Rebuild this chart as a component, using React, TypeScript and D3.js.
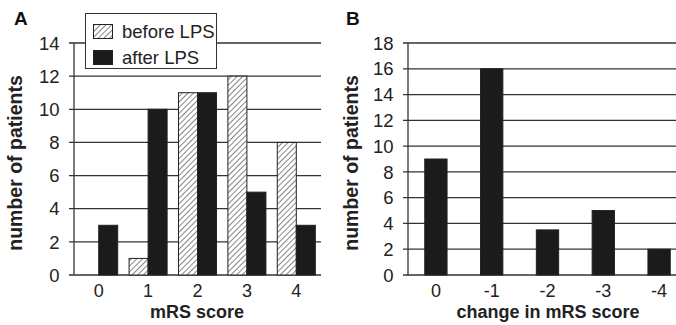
import * as d3 from "d3";
import { useEffect, useRef } from "react";

// panel A: distribution of mRS scores
const scoresA = ["0", "1", "2", "3", "4"];
const beforeLPS = [0, 1, 11, 12, 8];
const afterLPS = [3, 10, 11, 5, 3];
const seriesA = ["before LPS", "after LPS"];
const ticksA = [0, 2, 4, 6, 8, 10, 12, 14];

// panel B: change in mRS score
const changesB = ["0", "-1", "-2", "-3", "-4"];
const patientsB = [9, 16, 3.5, 5, 2];
const ticksB = [0, 2, 4, 6, 8, 10, 12, 14, 16, 18];

const W = 676;
const H = 325;
const FONT = "'Liberation Sans', Arial, sans-serif";
const INK = "#222";
const GRID = "#333";
const BAR = "#1b1b1b";
const FS = "18.5px";

function drawAxisY(g: any, y: d3.ScaleLinear<number, number>, ticks: number[], x0: number, x1: number) {
  // gridlines (they start 5px left of the axis, acting as tick marks)
  g.selectAll(".grid")
    .data(ticks)
    .enter()
    .append("line")
    .attr("x1", x0 - 5)
    .attr("x2", x1)
    .attr("y1", (d: number) => y(d))
    .attr("y2", (d: number) => y(d))
    .attr("stroke", GRID)
    .attr("stroke-width", 1.3);

  g.selectAll(".ylab")
    .data(ticks)
    .enter()
    .append("text")
    .attr("x", x0 - 14.5)
    .attr("y", (d: number) => y(d))
    .attr("dy", "0.36em")
    .attr("text-anchor", "end")
    .style("font-size", FS)
    .attr("fill", INK)
    .text((d: number) => d);

  // y axis line
  g.append("line")
    .attr("x1", x0)
    .attr("x2", x0)
    .attr("y1", y(ticks[ticks.length - 1]))
    .attr("y2", y(0))
    .attr("stroke", GRID)
    .attr("stroke-width", 1.3);
}

function addTitles(g: any, letter: string, letterX: number, xTitle: string, xTitleX: number, yTitleX: number) {
  g.append("text")
    .attr("x", xTitleX)
    .attr("y", 317.5)
    .attr("text-anchor", "middle")
    .style("font-size", "18px")
    .style("font-weight", "bold")
    .attr("fill", INK)
    .text(xTitle);

  g.append("text")
    .attr("transform", `translate(${yTitleX},163) rotate(-90)`)
    .attr("text-anchor", "middle")
    .style("font-size", "19.5px")
    .style("font-weight", "bold")
    .attr("fill", INK)
    .text("number of patients");

  g.append("text")
    .attr("x", letterX)
    .attr("y", 25)
    .style("font-size", "19px")
    .style("font-weight", "bold")
    .attr("fill", "#111")
    .text(letter);
}

function createChart(svgEl: SVGSVGElement) {
  const svg = d3.select(svgEl);
  svg.selectAll("*").remove();
  svg.style("font-family", FONT);

  const defs = svg.append("defs");
  const pat = defs
    .append("pattern")
    .attr("id", "hatch")
    .attr("patternUnits", "userSpaceOnUse")
    .attr("width", 4)
    .attr("height", 4)
    .attr("patternTransform", "rotate(45)");
  pat.append("rect").attr("width", 4).attr("height", 4).attr("fill", "white");
  pat
    .append("line")
    .attr("x1", 0)
    .attr("x2", 0)
    .attr("y1", 0)
    .attr("y2", 4)
    .attr("stroke", "#333")
    .attr("stroke-width", 1.2);

  /** PANEL A **/
  const yA = d3.scaleLinear().domain([0, 14]).range([275, 43]);
  const xA = d3
    .scaleBand()
    .domain(scoresA)
    .range([74, 321])
    .paddingInner(0.23)
    .paddingOuter(0.115);
  const xSub = d3.scaleBand().domain(seriesA).range([0, xA.bandwidth()]);

  const gA = svg.append("g");
  drawAxisY(gA, yA, ticksA, 74, 321);

  const rowsA = scoresA.map((s, i) => ({ s, vals: [beforeLPS[i], afterLPS[i]] }));
  const groups = gA
    .selectAll(".grp")
    .data(rowsA)
    .enter()
    .append("g")
    .attr("transform", (d) => `translate(${xA(d.s)},0)`);

  groups
    .selectAll("rect")
    .data((d) => d.vals.map((v, j) => ({ key: seriesA[j], v })))
    .enter()
    .filter((d) => d.v > 0)
    .append("rect")
    .attr("x", (d) => xSub(d.key) as number)
    .attr("width", xSub.bandwidth())
    .attr("y", (d) => yA(d.v))
    .attr("height", (d) => yA(0) - yA(d.v))
    .attr("fill", (d) => (d.key === "before LPS" ? "url(#hatch)" : BAR))
    .attr("stroke", "#222")
    .attr("stroke-width", 1);

  gA.selectAll(".xlab")
    .data(scoresA)
    .enter()
    .append("text")
    .attr("x", (d) => (xA(d) as number) + xA.bandwidth() / 2)
    .attr("y", 296.5)
    .attr("text-anchor", "middle")
    .style("font-size", "18px")
    .attr("fill", INK)
    .text((d) => d);

  addTitles(gA, "A", 14, "mRS score", 197, 22);

  // legend
  const leg = gA.append("g");
  leg
    .append("rect")
    .attr("x", 85.5)
    .attr("y", 13.5)
    .attr("width", 131)
    .attr("height", 55)
    .attr("fill", "white")
    .attr("stroke", "#333")
    .attr("stroke-width", 1);
  const legRows = leg
    .selectAll(".legend-row")
    .data(seriesA)
    .enter()
    .append("g")
    .attr("transform", (d, i) => `translate(0,${i * 26})`);
  legRows
    .append("rect")
    .attr("x", 93.5)
    .attr("y", 24.5)
    .attr("width", 19)
    .attr("height", 14)
    .attr("fill", (d) => (d === "before LPS" ? "url(#hatch)" : BAR))
    .attr("stroke", "#222");
  legRows
    .append("text")
    .attr("x", 122)
    .attr("y", 38)
    .style("font-size", FS)
    .attr("fill", INK)
    .text((d) => d);

  /** PANEL B **/
  const yB = d3.scaleLinear().domain([0, 18]).range([275, 43]);
  const xB = d3
    .scaleBand()
    .domain(changesB)
    .range([408, 687])
    .paddingInner(0.6)
    .paddingOuter(0.3);

  const gB = svg.append("g");
  drawAxisY(gB, yB, ticksB, 408, 687);

  gB.selectAll(".bar")
    .data(changesB.map((c, i) => ({ c, v: patientsB[i] })))
    .enter()
    .append("rect")
    .attr("x", (d) => xB(d.c) as number)
    .attr("width", xB.bandwidth())
    .attr("y", (d) => yB(d.v))
    .attr("height", (d) => yB(0) - yB(d.v))
    .attr("fill", BAR)
    .attr("stroke", "#222")
    .attr("stroke-width", 1);

  gB.selectAll(".xlab")
    .data(changesB)
    .enter()
    .append("text")
    .attr("x", (d) => (xB(d) as number) + xB.bandwidth() / 2)
    .attr("y", 296.5)
    .attr("text-anchor", "middle")
    .style("font-size", "18px")
    .attr("fill", INK)
    .text((d) => d);

  addTitles(gB, "B", 346, "change in mRS score", 548, 358);
}

export default function App() {
  const ref = useRef<SVGSVGElement>(null);
  useEffect(() => {
    if (ref.current) createChart(ref.current);
  }, []);
  return (
    <svg
      ref={ref}
      width={W}
      height={H}
      style={{ position: "absolute", left: 0, top: 0, background: "white" }}
    ></svg>
  );
}
